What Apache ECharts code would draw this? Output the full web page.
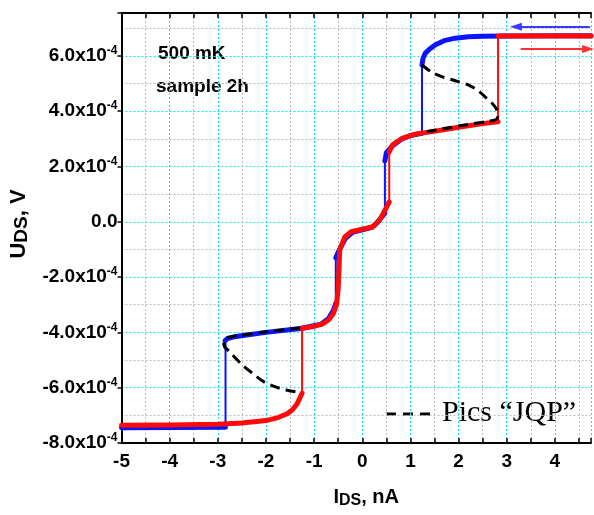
<!DOCTYPE html>
<html>
<head>
<meta charset="utf-8">
<script src="https://cdn.jsdelivr.net/npm/echarts@6/dist/echarts.min.js"></script>
<style>
html,body{margin:0;padding:0;background:#fff;}
#chart{width:594px;height:515px;}
</style>
</head>
<body>
<div id="chart"></div>
<script>
// ---- data (x in nA, y in units of 1e-4 V) ----
const xTicks = [-5, -4, -3, -2, -1, 0, 1, 2, 3, 4];
const yTicks = [-8, -6, -4, -2, 0, 2, 4, 6];

// red: sweep up (negative -> positive current)
const redLeft = [[-5,-7.36],[-4,-7.35],[-3,-7.32],[-2.5,-7.28],[-2,-7.19],[-1.75,-7.08],[-1.56,-6.94],[-1.45,-6.8],[-1.36,-6.6],[-1.29,-6.35],[-1.25,-6.2]];
const redJump1 = [[-1.25,-6.2],[-1.25,-3.86]];
const redMid = [[-1.25,-3.86],[-1.0,-3.78],[-0.81,-3.68],[-0.7,-3.55],[-0.6,-3.32],[-0.53,-2.95],[-0.5,-2.4],[-0.48,-1.6],[-0.47,-1.02],[-0.36,-0.54],[-0.23,-0.36],[0.0,-0.27],[0.22,-0.18],[0.36,0.06],[0.49,0.48],[0.56,0.72]];
const redJump2 = [[0.56,0.72],[0.56,2.53]];
const redUpper = [[0.56,2.53],[0.63,2.78],[0.83,3.02],[1.1,3.17],[1.45,3.26],[2.0,3.42],[2.5,3.55],[2.82,3.62]];
const redJump3 = [[2.82,3.62],[2.82,6.72]];
const redTop = [[2.82,6.72],[3.5,6.72],[4.75,6.72]];

// blue: sweep down (positive -> negative current)
const blueTop = [[4.75,6.73],[4,6.73],[3,6.72],[2.5,6.71],[2.2,6.69],[1.93,6.64],[1.7,6.55],[1.52,6.4],[1.4,6.25],[1.31,6.1],[1.26,5.9],[1.24,5.67]];
const blueJump1 = [[1.24,5.67],[1.24,3.2]];
const blueMid = [[1.24,3.2],[1.0,3.12],[0.83,3.0],[0.63,2.75],[0.5,2.5],[0.47,2.2]];
const blueJump2 = [[0.47,2.2],[0.47,0.31]];
const blueMid2 = [[0.47,0.31],[0.3,-0.05],[0.2,-0.2],[-0.2,-0.38],[-0.35,-0.6],[-0.5,-1.1],[-0.55,-1.3]];
const blueJump3 = [[-0.55,-1.3],[-0.55,-2.95]];
const blueLow = [[-0.55,-2.95],[-0.6,-3.2],[-0.7,-3.5],[-0.85,-3.7],[-1.29,-3.86],[-2.0,-4.0],[-2.66,-4.16],[-2.8,-4.22],[-2.85,-4.3]];
const blueJump4 = [[-2.84,-4.3],[-2.84,-7.43]];
const blueBottom = [[-2.84,-7.43],[-4,-7.44],[-5,-7.45]];

// dashed "JQP" peaks
const jqpRight = [[1.24,5.67],[1.45,5.4],[1.65,5.25],[1.9,5.12],[2.2,4.95],[2.4,4.75],[2.55,4.52],[2.7,4.28],[2.78,4.1],[2.82,3.85],[2.78,3.7],[2.6,3.63],[2.2,3.52],[1.8,3.4],[1.5,3.31],[1.24,3.22]];
const jqpLeft = [[-1.29,-3.84],[-2.0,-3.98],[-2.6,-4.12],[-2.8,-4.2],[-2.88,-4.35],[-2.86,-4.52],[-2.79,-4.64],[-2.52,-5.13],[-2.3,-5.45],[-2.04,-5.79],[-1.8,-5.97],[-1.56,-6.09],[-1.29,-6.17]];

// sweep direction arrows
const arrowBlue = [[4.73,7.05],[3.19,7.05]];
const arrowRed = [[3.29,6.25],[4.69,6.25]];

const labels = {
  note1: '500 mK',
  note2: 'sample 2h',
  legend: 'Pics \u201CJQP\u201D'
};

const BLUE = '#0a14ff';
const RED = '#ff0a0a';
const FONT = 'Liberation Sans';

function seg(data, color, width, z) {
  return { type: 'line', data: data, showSymbol: false, symbol: 'none', silent: true,
    lineStyle: { color: color, width: width, cap: 'round', join: 'round' }, z: z, animation: false };
}

const chart = echarts.init(document.getElementById('chart'), null, { renderer: 'canvas' });

const series = [
  seg(blueTop, BLUE, 5, 2), seg(blueJump1, BLUE, 2, 2), seg(blueMid, BLUE, 5, 2),
  seg(blueJump2, BLUE, 2, 2), seg(blueMid2, BLUE, 5, 2), seg(blueJump3, BLUE, 2, 2),
  seg(blueLow, BLUE, 5, 2), seg(blueJump4, BLUE, 2, 2), seg(blueBottom, BLUE, 5, 2),
  seg(redLeft, RED, 5, 3), seg(redJump1, RED, 2, 3), seg(redMid, RED, 5, 3),
  seg(redJump2, RED, 2, 3), seg(redUpper, RED, 5, 3), seg(redJump3, RED, 2, 3), seg(redTop, RED, 5, 3),
  Object.assign(seg(jqpRight, '#000', 3, 4), { smooth: 0.3, lineStyle: { color: '#000', width: 3, type: [10, 6], cap: 'butt' } }),
  Object.assign(seg(jqpLeft, '#000', 3, 4), { smooth: 0.3, lineStyle: { color: '#000', width: 3, type: [10, 6], cap: 'butt' } }),
  {
    type: 'line', data: [], silent: true, animation: false,
    markLine: {
      silent: true, animation: false, symbol: ['none', 'triangle'], symbolSize: [8, 12],
      label: { show: false },
      data: [
        [{ coord: arrowBlue[0], lineStyle: { color: '#3a3aff', width: 2, type: 'solid' } }, { coord: arrowBlue[1] }],
        [{ coord: arrowRed[0], lineStyle: { color: '#ff3030', width: 2, type: 'solid' } }, { coord: arrowRed[1] }]
      ]
    }
  }
];

function fmtX(v) {
  const r = Math.round(v * 100) / 100;
  return xTicks.indexOf(r) >= 0 ? String(r) : '';
}
function fmtY(v) {
  const r = Math.round(v * 100) / 100;
  if (yTicks.indexOf(r) < 0) return '';
  if (r === 0) return '{b|0.0}';
  return '{b|' + r.toFixed(1) + 'x10}{s|-4}';
}

const option = {
  backgroundColor: '#ffffff',
  animation: false,
  grid: { left: 118, top: 13, right: 0, bottom: 72, containLabel: false },
  xAxis: [
    {
      type: 'value', min: -5, max: 4.75, interval: 0.5, position: 'bottom',
      axisLine: { show: true, onZero: false, lineStyle: { color: '#000', width: 2 } },
      axisTick: { show: true, inside: true, length: 5, lineStyle: { color: '#000', width: 1.5 } },
      axisLabel: { formatter: fmtX, fontFamily: FONT, fontWeight: 'bold', fontSize: 19, color: '#000', margin: 9, showMaxLabel: true, showMinLabel: true },
      splitLine: { show: true, lineStyle: { color: ['#14e6ee', '#bdbdbd'], width: 1, type: [2, 2] } },
      name: '{i|I}{sub|DS}{i|, nA}', nameLocation: 'middle', nameGap: 42,
      nameTextStyle: {
        padding: [0, 0, 0, 20],
        rich: {
          i: { fontFamily: FONT, fontWeight: 'bold', fontSize: 20, color: '#000' },
          sub: { fontFamily: FONT, fontWeight: 'bold', fontSize: 16, color: '#000', padding: [8, 0, 0, 0] }
        }
      }
    },
    {
      type: 'value', min: -5, max: 4.75, interval: 0.5, position: 'top',
      axisLine: { show: true, onZero: false, lineStyle: { color: '#000', width: 2 } },
      axisTick: { show: true, inside: true, length: 5, lineStyle: { color: '#000', width: 1.5 } },
      axisLabel: { show: false }, splitLine: { show: false }
    }
  ],
  yAxis: [
    {
      type: 'value', min: -8, max: 7.55, interval: 1, position: 'left',
      axisLine: { show: true, onZero: false, lineStyle: { color: '#000', width: 2 } },
      axisTick: { show: false }, axisLabel: { show: false },
      splitLine: { show: true, lineStyle: { color: ['#14e6ee', '#bdbdbd'], width: 1, type: [2, 2] } }
    },
    {
      type: 'value', min: -8, max: 7.55, interval: 2, position: 'left',
      axisLine: { show: false, onZero: false },
      axisTick: { show: true, inside: false, length: 4, lineStyle: { color: '#000', width: 1.5 } },
      splitLine: { show: false },
      axisLabel: {
        formatter: fmtY, margin: 4,
        rich: {
          b: { fontFamily: FONT, fontWeight: 'bold', fontSize: 19, color: '#000' },
          s: { fontFamily: FONT, fontWeight: 'bold', fontSize: 12, color: '#000', padding: [0, 0, 10, 0] }
        }
      },
      name: '{u|U}{sub|DS}{u|, V}', nameLocation: 'middle', nameGap: 84, nameRotate: 90,
      nameTextStyle: {
        padding: [0, 0, 0, 8],
        rich: {
          u: { fontFamily: FONT, fontWeight: 'bold', fontSize: 22, color: '#000' },
          sub: { fontFamily: FONT, fontWeight: 'bold', fontSize: 19, color: '#000', padding: [6, 0, 0, 0] }
        }
      }
    }
  ],
  graphic: [
    { type: 'text', left: 158, top: 44, silent: true, style: { text: labels.note1, font: 'bold 19px "Liberation Sans"', fill: '#000' } },
    { type: 'text', left: 156, top: 77, silent: true, style: { text: labels.note2, font: 'bold 19px "Liberation Sans"', fill: '#000' } },
    { type: 'line', silent: true, shape: { x1: 386, y1: 414, x2: 433, y2: 414 }, style: { stroke: '#000', lineWidth: 3, lineDash: [10, 7] } },
    { type: 'text', left: 442, top: 398, silent: true, style: { text: labels.legend, font: '30px "Liberation Serif"', fill: '#000' } }
  ],
  series: series
};
chart.setOption(option);
</script>
</body>
</html>
